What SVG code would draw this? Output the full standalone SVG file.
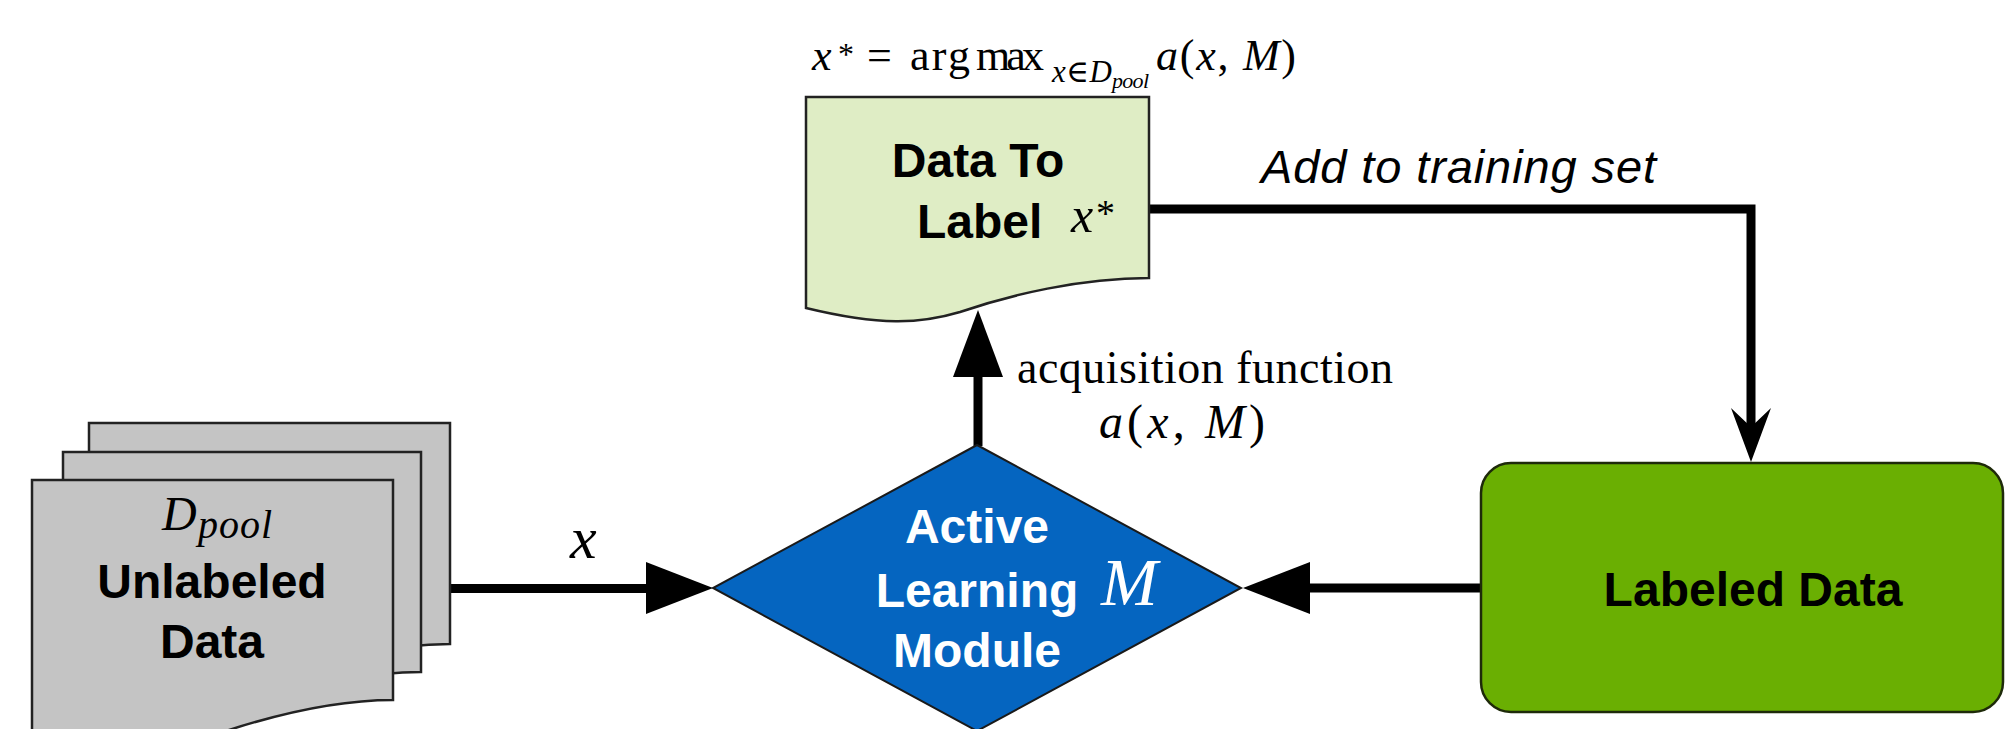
<svg xmlns="http://www.w3.org/2000/svg" width="2005" height="729" viewBox="0 0 2005 729">
  <defs>
    <style>
      .edge{stroke:#000;stroke-width:9;fill:none}
      .head{fill:#000}
      .sheet{fill:#c4c4c4;stroke:#222;stroke-width:2.5}
      .lbl{font-family:"Liberation Sans",Arial,sans-serif;font-weight:bold;font-size:48px;fill:#000;text-anchor:middle}
      .it{font-family:"Liberation Serif","DejaVu Serif",serif;font-style:italic;fill:#000}
      .rm{font-family:"Liberation Serif","DejaVu Serif",serif;font-style:normal;fill:#000}
      .note{font-family:"Liberation Sans",Arial,sans-serif;font-style:italic;font-size:47px;fill:#000}
    </style>
  </defs>
  <rect width="2005" height="729" fill="#fff"/>

  <!-- connectors -->
  <g id="connectors">
    <!-- pool -> module -->
    <path class="edge" d="M450,588.5 H650"/>
    <polygon class="head" points="713,588 646,562 646,614"/>
    <text class="it" x="570" y="558" font-size="60">x</text>
    <!-- labeled data -> module -->
    <path class="edge" d="M1481,588 H1306"/>
    <polygon class="head" points="1243,588 1310,562 1310,614"/>
    <!-- module -> data to label -->
    <path class="edge" d="M978,446 V372"/>
    <polygon class="head" points="978,310 953,377 1003,377"/>
    <text class="rm" x="1017" y="383" font-size="46" textLength="376">acquisition function</text>
    <text class="it" x="1099" y="438" font-size="48" textLength="166">a<tspan class="rm">(</tspan>x<tspan class="rm">,</tspan> M<tspan class="rm">)</tspan></text>
    <!-- data to label -> labeled data -->
    <path class="edge" d="M1149,209 H1751 V440"/>
    <path class="head" d="M1751,462 L1731,408 L1751,427 L1771,408 Z"/>
    <text class="note" x="1261" y="183" textLength="395">Add to training set</text>
  </g>

  <!-- unlabeled pool: stack of three documents -->
  <g id="unlabeled-data">
    <path class="sheet" d="M89,423 H450 V644 C378,644 306,666 251,686 C208,700 168,702 89,680 Z"/>
    <path class="sheet" d="M63,452 H421 V672 C349,672 278,694 224,714 C181,728 142,730 63,708 Z"/>
    <path class="sheet" d="M32,480 H393 V700 C321,700 249,722 194,742 C151,756 111,758 32,736 Z"/>
    <text class="it" x="162" y="530" font-size="48">D</text>
    <text class="it" x="198" y="538" font-size="40" textLength="74">pool</text>
    <text class="lbl" x="212" y="598">Unlabeled</text>
    <text class="lbl" x="212" y="658">Data</text>
  </g>

  <!-- query selection formula -->
  <g id="formula">
    <text class="it" x="812" y="70" font-size="44">x</text>
    <text class="rm" x="838" y="65" font-size="32">*</text>
    <text class="rm" x="867" y="70" font-size="44" textLength="30">=</text>
    <text class="rm" x="910" y="70" font-size="44" textLength="60">arg</text>
    <text class="rm" x="976" y="70" font-size="44" textLength="68">max</text>
    <text class="it" x="1052" y="82" font-size="31" textLength="60">x∈D</text>
    <text class="it" x="1112" y="88" font-size="22" textLength="37">pool</text>
    <text class="it" x="1156" y="70" font-size="44" textLength="140">a<tspan class="rm">(</tspan>x<tspan class="rm">,</tspan> M<tspan class="rm">)</tspan></text>
  </g>

  <!-- selected sample -->
  <g id="data-to-label">
    <path d="M806,97 H1149 V278 C1080,278 1010,295 960,312 C920,324 880,326 806,308 Z" fill="#dfedc5" stroke="#222" stroke-width="2.5"/>
    <text class="lbl" x="978" y="177" font-size="47">Data To</text>
    <text class="lbl" x="917" y="238" font-size="47" text-anchor="start" style="text-anchor:start">Label</text>
    <text class="it" x="1071" y="232" font-size="50">x</text>
    <text class="rm" x="1096" y="226" font-size="38">*</text>
  </g>

  <!-- active learner -->
  <g id="active-learning-module">
    <polygon points="977,445 1241,588 977,731 713,588" fill="#0565c0" stroke="#1a1a1a" stroke-width="2"/>
    <text class="lbl" x="977" y="543" fill="#fff" style="fill:#fff">Active</text>
    <text class="lbl" x="977" y="607" style="fill:#fff">Learning</text>
    <text class="lbl" x="977" y="667" style="fill:#fff">Module</text>
    <text class="it" x="1101" y="605" font-size="68" style="fill:#fff">M</text>
  </g>

  <!-- training set -->
  <g id="labeled-data">
    <rect x="1481" y="463" width="522" height="249" rx="30" fill="#6aaf02" stroke="#1e2a0a" stroke-width="2.5"/>
    <text class="lbl" x="1753" y="606">Labeled Data</text>
  </g>
</svg>
